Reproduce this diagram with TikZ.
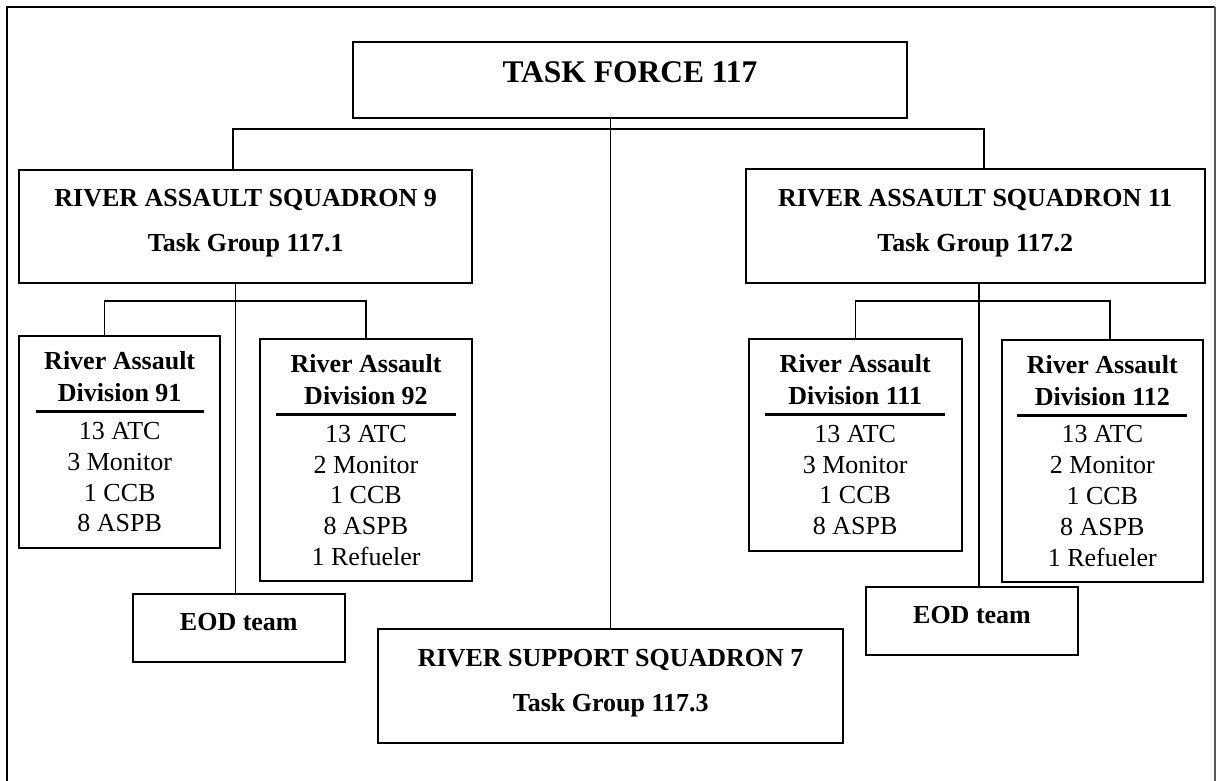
\documentclass[tikz,border=0pt]{standalone}
\usepackage{fontspec}
\setmainfont{Liberation Serif}
\usepackage{tikz}
\usetikzlibrary{calc}

\tikzset{
  unit/.style={draw, line width=2pt, rectangle, align=center, inner sep=0pt,
    font=\fontsize{26}{30.8}\selectfont},
  squadron/.style={unit, font=\fontsize{26}{30.8}\selectfont\bfseries},
  link/.style={line width=1.1pt}
}

\begin{document}
\begin{tikzpicture}[x=1pt,y=-1pt]
\useasboundingbox (0,0) rectangle (1216,781);
\draw[line width=2.5pt] (7,781) -- (7,7) -- (1215,7);
\draw[line width=1.6pt,black!65] (1215,7) -- (1215,781);

\node[squadron, minimum width=554, minimum height=76, text depth=15pt,
  font=\fontsize{31.5}{36}\selectfont\bfseries] (tf) at (630,80) {TASK FORCE 117};

\node[squadron, minimum width=452.6, minimum height=113, text depth=12pt] (ras9) at (245.7,226.5)
  {RIVER ASSAULT SQUADRON 9\\[14.2pt]Task Group 117.1};
\node[squadron, minimum width=459.4, minimum height=114, text depth=12pt] (ras11) at (975.3,226)
  {RIVER ASSAULT SQUADRON 11\\[14.2pt]Task Group 117.2};
\node[squadron, minimum width=465.4, minimum height=113.2, text depth=12pt] (rss7) at (610.7,686)
  {RIVER SUPPORT SQUADRON 7\\[14.2pt]Task Group 117.3};

\node[unit, minimum width=200.5, minimum height=212] (d91) at (119.7,442)
  {\textbf{River Assault}\\[1.2pt]\textbf{Division 91}\\[-19.3pt]\rule{168pt}{3pt}\\[-4.8pt]13 ATC\\3 Monitor\\1 CCB\\8 ASPB};
\node[unit, minimum width=212.5, minimum height=241.7] (d92) at (366,460.2)
  {\textbf{River Assault}\\[1.2pt]\textbf{Division 92}\\[-19.3pt]\rule{180pt}{3pt}\\[-4.8pt]13 ATC\\2 Monitor\\1 CCB\\8 ASPB\\1 Refueler};
\node[unit, minimum width=212.8, minimum height=211.7] (d111) at (855.2,444.8)
  {\textbf{River Assault}\\[1.2pt]\textbf{Division 111}\\[-19.3pt]\rule{180pt}{3pt}\\[-4.8pt]13 ATC\\3 Monitor\\1 CCB\\8 ASPB};
\node[unit, minimum width=201.4, minimum height=241.7] (d112) at (1102.3,460.8)
  {\textbf{River Assault}\\[1.2pt]\textbf{Division 112}\\[-19.3pt]\rule{170pt}{3pt}\\[-4.8pt]13 ATC\\2 Monitor\\1 CCB\\8 ASPB\\1 Refueler};

\node[squadron, minimum width=212.4, minimum height=67.7, text depth=12.4pt] (eod1) at (238.8,627.9) {EOD team};
\node[squadron, minimum width=212.5, minimum height=67.7, text depth=12.4pt] (eod2) at (972,621.2) {EOD team};

\draw[link] (rss7.north) -- (rss7.north |- tf.south);
\draw[link] ([xshift=-12.7pt]ras9.north) -- ++(0,-40) -| ([xshift=8.7pt]ras11.north);
\draw[link] ([xshift=-3pt]eod1.north) -- ([xshift=-3pt]eod1.north |- ras9.south);
\draw[link] ([xshift=-15pt]d91.north) -- ++(0,-34) -| (d92.north);
\draw[link] ([xshift=7pt]eod2.north) -- ([xshift=7pt]eod2.north |- ras11.south);
\draw[link] (d111.north) -- ++(0,-37) -| ([xshift=7.7pt]d112.north);
\end{tikzpicture}
\end{document}
